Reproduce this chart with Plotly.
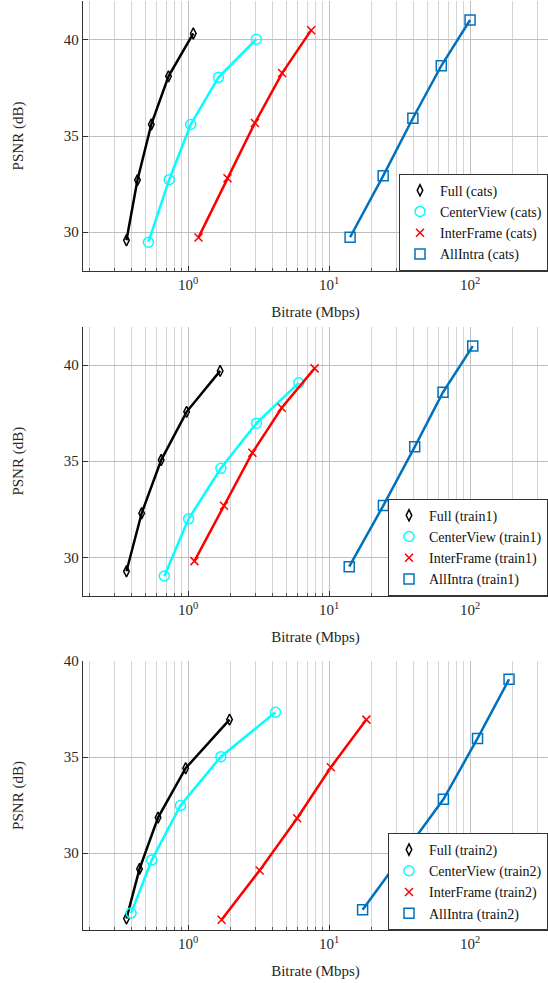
import math
import plotly.graph_objects as go

# ---------------- data ----------------
full_cats_x = [0.366, 0.438, 0.549, 0.727, 1.09]
full_cats_y = [29.58, 32.71, 35.6, 38.1, 40.33]
center_cats_x = [0.524, 0.735, 1.045, 1.645, 3.05]
center_cats_y = [29.48, 32.73, 35.6, 38.05, 40.03]
inter_cats_x = [1.187, 1.905, 2.98, 4.65, 7.47]
inter_cats_y = [29.73, 32.8, 35.68, 38.27, 40.5]
intra_cats_x = [14.1, 24.2, 39.3, 62.5, 100.0]
intra_cats_y = [29.74, 32.93, 35.92, 38.65, 41.03]

full_train1_x = [0.366, 0.469, 0.645, 0.977, 1.69]
full_train1_y = [29.27, 32.29, 35.06, 37.57, 39.7]
center_train1_x = [0.679, 1.01, 1.71, 3.06, 6.1]
center_train1_y = [29.03, 32.0, 34.63, 36.98, 39.08]
inter_train1_x = [1.11, 1.8, 2.86, 4.62, 7.9]
inter_train1_y = [29.8, 32.68, 35.44, 37.78, 39.83]
intra_train1_x = [13.9, 24.3, 40.5, 64.3, 104.5]
intra_train1_y = [29.51, 32.7, 35.75, 38.59, 40.99]

full_train2_x = [0.366, 0.453, 0.613, 0.962, 1.97]
full_train2_y = [26.6, 29.18, 31.85, 34.42, 36.95]
center_train2_x = [0.395, 0.553, 0.884, 1.71, 4.17]
center_train2_y = [26.88, 29.64, 32.48, 35.02, 37.33]
inter_train2_x = [1.73, 3.22, 5.94, 10.3, 18.4]
inter_train2_y = [26.53, 29.1, 31.82, 34.47, 36.95]
intra_train2_x = [17.3, 64.7, 113.0, 189.0]
intra_train2_y = [27.05, 32.8, 35.97, 39.05]

datasets = ["cats", "train1", "train2"]
methods = ["Full", "CenterView", "InterFrame", "AllIntra"]
series = {
    "cats": [(full_cats_x, full_cats_y), (center_cats_x, center_cats_y),
             (inter_cats_x, inter_cats_y), (intra_cats_x, intra_cats_y)],
    "train1": [(full_train1_x, full_train1_y), (center_train1_x, center_train1_y),
               (inter_train1_x, inter_train1_y), (intra_train1_x, intra_train1_y)],
    "train2": [(full_train2_x, full_train2_y), (center_train2_x, center_train2_y),
               (inter_train2_x, inter_train2_y), (intra_train2_x, intra_train2_y)],
}
y_ranges = [[28, 42], [28, 42], [26, 40]]
y_ticks = [30, 35, 40]
x_major = [1, 10, 100]
x_major_text = ["10<sup>0</sup>", "10<sup>1</sup>", "10<sup>2</sup>"]

# ---------------- styles ----------------
colors = ["#000000", "#00FFFF", "#FF0000", "#0072BD"]
symbols = ["diamond-tall-open", "circle-open", "x-thin", "square-open"]
msizes = [8, 10, 8, 10]
FONT = "'Liberation Serif', 'Times New Roman', 'DejaVu Serif', serif"
TXT = "#262626"

W, H = 548, 983
ML, MR, MT, MB = 83, 0, 1, 53
plot_h = H - MT - MB
# panel pixel extents (top, bottom)
panels = [(1.3, 270.7), (326.7, 595.7), (661.0, 930.0)]

def dom(top, bottom):
    return [(H - MB - bottom) / plot_h, (H - MB - top) / plot_h]

fig = go.Figure()
minor_vals = [m * 10 ** e for e in range(-1, 3) for m in range(2, 10)]

for i, ds in enumerate(datasets):
    ax = "" if i == 0 else str(i + 1)
    leg = "legend" if i == 0 else "legend" + str(i + 1)
    for j, (xs, ys) in enumerate(series[ds]):
        fig.add_trace(go.Scatter(
            x=xs, y=ys, mode="lines+markers", xaxis="x" + ax, yaxis="y" + ax,
            line=dict(color=colors[j], width=2.5),
            marker=dict(symbol=symbols[j], size=msizes[j], color=colors[j],
                        line=dict(color=colors[j], width=1.5)),
            showlegend=False, hoverinfo="x+y"))
    for j, m in enumerate(methods):
        fig.add_trace(go.Scatter(
            x=[None], y=[None], mode="markers", xaxis="x" + ax, yaxis="y" + ax,
            marker=dict(symbol=symbols[j], size=msizes[j], color=colors[j],
                        line=dict(color=colors[j], width=1.5)),
            name=f"{m} ({ds})", legend=leg, showlegend=True))

    d = dom(*panels[i])
    fig.layout["xaxis" + ax] = dict(
        type="log", range=[math.log10(0.18), math.log10(357)],
        anchor="y" + ax, domain=[0, 1],
        tickmode="array", tickvals=x_major, ticktext=x_major_text,
        ticks="inside", ticklen=5, tickcolor="#333", tickwidth=1,
        showgrid=True, gridcolor="#bfbfbf", gridwidth=1,
        minor=dict(tickmode="array", tickvals=minor_vals, ticks="inside",
                   ticklen=3, tickcolor="#555", showgrid=True,
                   gridcolor="#d4d4d4", gridwidth=1),
        showline=True, linecolor="#333", linewidth=1.3,
        zeroline=False, automargin=False,
        tickfont=dict(family=FONT, size=15, color=TXT),
        title=dict(text="Bitrate (Mbps)", standoff=14,
                   font=dict(family=FONT, size=15, color=TXT)))
    fig.layout["yaxis" + ax] = dict(
        range=y_ranges[i], anchor="x" + ax, domain=d,
        tickmode="array", tickvals=y_ticks,
        ticks="inside", ticklen=5, tickcolor="#333",
        showgrid=True, gridcolor="#bfbfbf", gridwidth=1,
        showline=True, linecolor="#333", linewidth=1.3,
        zeroline=False, automargin=False,
        tickfont=dict(family=FONT, size=15, color=TXT),
        title=dict(text="PSNR (dB)", standoff=36,
                   font=dict(family=FONT, size=15, color=TXT)))
    fig.layout[leg] = dict(
        x=1, xanchor="right", xref="paper",
        y=d[0], yanchor="bottom", yref="paper",
        bgcolor="white", bordercolor="#333", borderwidth=1,
        font=dict(family=FONT, size=14, color="#111"),
        tracegroupgap=0, itemwidth=30)

fig.update_layout(
    width=W, height=H, margin=dict(l=ML, r=MR, t=MT, b=MB),
    paper_bgcolor="white", plot_bgcolor="white",
    font=dict(family=FONT, size=15, color=TXT))

fig.write_html("out.html")
